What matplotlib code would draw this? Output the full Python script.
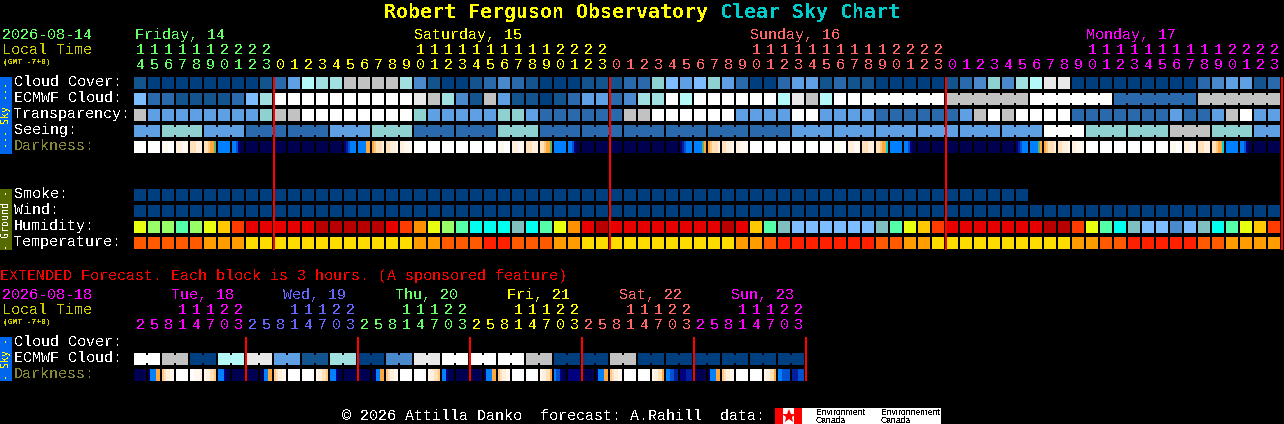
"""Clear Sky Chart for the Robert Ferguson Observatory."""
import matplotlib
matplotlib.use("Agg")
import matplotlib.pyplot as plt
from matplotlib.patches import Rectangle

plt.rcParams["font.family"] = ["Liberation Mono", "DejaVu Sans Mono"]
plt.rcParams["text.antialiased"] = False

GREEN, YELLOW, SALMON, MAGENTA, VIOLET = "#66FF66", "#FFFF00", "#FF6666", "#FF00FF", "#6666FF"
NAVY = "#003F7F"

# colour scales, indexed by the codes in the rows below
sky_colors = ["#003F7F", "#13548F", "#2A69AB", "#4A8ACC", "#5F9FE3", "#7CBCFF",
              "#8FD0D0", "#A0E0E0", "#B4F8F8", "#C2C2C2", "#E8E8E8", "#FFFFFF"]
humidity_colors = ["#4A8ACC", "#7CBCFF", "#80BFBF", "#00FFEE", "#55FFAA", "#99FF66",
                   "#E8FF10", "#FFC800", "#FF9000", "#FF3C00", "#E60000", "#B80000"]
temp_colors = ["#FF2000", "#FF5A00", "#FF9C00", "#FFDC00"]
dark_colors = {"0": "#000050", "1": "#000080", "2": "#0020A0", "3": "#0050D0",
               "4": "#0080FF", "5": "#FFA840", "6": "#FFC880", "7": "#FFE0B8",
               "8": "#FFEFDC", "9": "#FFF8F0", "W": "#FFFFFF", "g": "#60B070",
               "c": "#00D0E0"}

cloud_cover = [1, 0, 0, 0, 0, 0, 0, 0, 0, 1,
               2, 4, 8, 7, 7, 9, 9, 9, 9, 7, 3,
               1, 0, 0, 1, 2, 3, 2, 1, 0, 0, 0, 1, 1, 1, 2, 2, 6, 5, 4, 5, 6, 4, 2, 0, 0, 2, 4, 4, 1, 2, 1,
               1, 0, 0, 0, 0, 0, 1, 2, 3, 6, 3, 7, 8, 10, 10, 0, 0, 0, 0, 0, 0, 0, 0, 0, 2, 3, 4, 4, 1, 2]
ecmwf_cloud = [5, 2, 2, 1, 1, 1, 1, 2, 5, 7,
               11, 11, 11, 11, 11, 11, 11, 11, 11, 11, 10,
               9, 7, 3, 1, 9, 4, 1, 1, 0, 1, 2, 4, 4, 2, 3, 7, 7, 11, 8, 11, 11, 11, 11, 11, 11, 8, 10, 9, 8, 11, 11,
               11, 11, 11, 11, 11, 11, 9, 9, 9, 9, 9, 9, 11, 11, 11, 11, 11, 11, 2, 2, 2, 2, 2, 2, 9, 9, 9, 9, 9, 9]
transparency = [9, 4, 4, 4, 4, 4, 4, 4, 4, 6,
                9, 9, 11, 11, 11, 11, 11, 11, 11, 11, 6,
                4, 4, 4, 4, 4, 6, 6, 4, 2, 2, 2, 2, 2, 2, 9, 9, 11, 11, 11, 11, 11, 11, 4, 4, 4, 4, 11, 11, 4, 4, 4,
                4, 2, 2, 2, 2, 2, 2, 4, 9, 11, 9, 11, 11, 11, 11, 2, 2, 2, 2, 2, 2, 2, 4, 2, 2, 4, 9, 11, 4, 4]
seeing = [4, 4, 6, 6, 6, 4, 4, 4, 2, 2, 2, 2, 2, 2, 4, 4, 4, 6, 6, 6,
          2, 2, 2, 2, 2, 2, 6, 6, 6, 2, 2, 2, 2, 2, 2, 2, 2, 2, 2, 2, 2, 2, 2, 2, 2, 2, 2, 4, 4, 4,
          4, 4, 4, 4, 4, 4, 4, 4, 4, 4, 4, 4, 4, 4, 4, 11, 11, 11, 6, 6, 6, 6, 6, 6, 9, 9, 9, 6, 6, 6, 4, 4]
darkness = ["WWWWWW", "WWWWWW", "999WWW", "888999", "777888", "77655g", "444444", "443100",
            "000000", "000000", "000000", "000000", "000000", "000000", "000000", "123444",
            "444455", "567778", "778889", "889999", "WWWWWW",
            "WWWWWW", "WWWWWW", "WWWWWW", "WWWWWW", "WWWWWW", "999WWW", "888999", "777888", "77655g",
            "444444", "443100", "000000", "000000", "000000", "000000", "000000", "000000", "000000",
            "123444", "4444g5", "567778", "778889", "889999", "WWWWWW", "WWWWWW", "WWWWWW", "WWWWWW",
            "WWWWWW", "WWWWWW", "999WWW", "888999",
            "777888", "77655c", "444444", "443100", "000000", "000000", "000000", "000000", "000000",
            "000000", "000000", "123444", "4444g5", "567778", "778889", "889999", "WWWWWW", "WWWWWW",
            "WWWWWW", "WWWWWW", "WWWWWW", "WWWWWW", "999WWW", "888999", "777888", "77655c", "444444",
            "443100", "000000", "000000"]
smoke = [0] * 64
wind = [0] * 82
humidity = [6, 5, 5, 4, 5, 6, 7, 9, 10, 10, 10, 10, 10, 11, 11, 11, 11, 11, 10, 9, 8,
            6, 5, 4, 3, 3, 3, 2, 3, 4, 6, 8, 10, 11, 10, 10, 10, 10, 10, 10, 10, 10, 11, 10, 7, 4, 2, 1, 1, 1, 1, 1,
            1, 2, 4, 6, 7, 9, 10, 10, 10, 10, 10, 10, 10, 11, 11, 9, 6, 4, 3, 2, 1, 1, 0, 1, 2, 3, 4, 6, 7, 9]
temperature = [1, 1, 1, 1, 1, 2, 2, 2, 3, 3, 3, 3, 3, 3, 3, 3, 3, 3, 3, 3, 2,
               2, 1, 1, 1, 0, 0, 1, 1, 1, 2, 2, 3, 3, 3, 3, 3, 3, 3, 3, 3, 3, 3, 2, 2, 1, 0, 0, 0, 0, 0, 0,
               0, 1, 1, 2, 2, 3, 3, 3, 3, 3, 3, 3, 3, 3, 3, 2, 2, 1, 1, 0, 0, 0, 0, 0, 1, 1, 2, 2, 2, 2]

ext_ecmwf = [11, 11, 9, 9, 0, 0, 8, 8, 10, 10, 4, 4, 1, 1, 7, 7, 0, 0, 3, 3, 10, 10, 11, 11,
             11, 11, 11, 11, 9, 9, 0, 0, 0, 0, 9, 9, 0, 0, 0, 0, 0, 0, 0, 0, 0, 0, 0, 0]
ext_darkness = ["000000", "044455", "678899", "WWWWWW", "WW9998", "988776", "444100", "000000",
                "000000", "004455", "678899", "WWWWWW", "WWWWWW", "988776", "444100", "000000",
                "000000", "004455", "678899", "WWWWWW", "WWWWWW", "988776", "441000", "000000",
                "000000", "044455", "678899", "WWWWWW", "WWWWWW", "988775", "433100", "111111",
                "000000", "044455", "678899", "WWWWWW", "WWWWWW", "988775", "443322", "111222",
                "000000", "044455", "678899", "WWWWWW", "WWWWWW", "988775", "443333", "222333"]

# runs of blocks joined by a narrow neck
seeing_runs = [2] + [3] * 26 + [2]
ecmwf_runs = [1] * 52 + [6] * 5
ext_runs = [2] * 24

main_hours = [14, 15, 16, 17, 18, 19, 20, 21, 22, 23] + list(range(24)) * 3
main_hour_colors = [GREEN] * 10 + [YELLOW] * 24 + [SALMON] * 24 + [MAGENTA] * 24
main_days = ["Friday, 14", "Saturday, 15", "Sunday, 16", "Monday, 17"]
main_day_colors = [GREEN, YELLOW, SALMON, MAGENTA]
main_day_starts = [0, 20, 44, 68]
main_day_breaks = [10, 34, 58, 82]

ext_hours = [2, 5, 8, 11, 14, 17, 20, 23] * 6
ext_day_colors = [MAGENTA, VIOLET, GREEN, YELLOW, SALMON, MAGENTA]
ext_days = ["Tue, 18", "Wed, 19", "Thu, 20", "Fri, 21", "Sat, 22", "Sun, 23"]
ext_day_breaks = [8, 16, 24, 32, 40, 48]

X0, PITCH, SIZE = 134, 14, 12


def rect(ax, x, y, w, h, color, zorder=2):
    ax.add_patch(Rectangle((x, y), w, h, facecolor=color, edgecolor="none", linewidth=0,
                           antialiased=False, snap=False, zorder=zorder))


def label(ax, x, y, s, color="white", px=15, **kw):
    ax.text(x, y, s, color=color, fontsize=px * 0.72, va="baseline", ha="left", **kw)


def blocks(ax, y, codes, palette, runs=None):
    for i, c in enumerate(codes):
        rect(ax, X0 + i * PITCH, y, SIZE, SIZE, palette[c])
    if runs is None:
        return
    start = 0
    for n in runs:
        for i in range(start, start + n - 1):
            rect(ax, X0 + i * PITCH + SIZE, y + 2, PITCH - SIZE, SIZE - 4, palette[codes[i]])
        start += n


def dark_blocks(ax, y, cells):
    for i, strips in enumerate(cells):
        w = SIZE / len(strips)
        for j, code in enumerate(strips):
            rect(ax, X0 + i * PITCH + j * w, y, w, SIZE, dark_colors[code])


def side_bar(ax, y0, y1, color, text, text_color):
    rect(ax, 0, y0, 12, y1 - y0, color)
    ax.text(6, (y0 + y1) / 2, text, color=text_color, fontsize=7.2, rotation=90,
            ha="center", va="center", family="DejaVu Sans Mono")


def hour_rows(ax, y_tens, y_ones, hours, colors):
    # left aligned on whole pixels, so every digit rasterises the same way
    for i, (h, c) in enumerate(zip(hours, colors)):
        x = X0 + i * PITCH + 2
        if h >= 10:
            label(ax, x, y_tens, str(h // 10), c)
        label(ax, x, y_ones, str(h % 10), c)


def red_lines(ax, y0, y1, breaks):
    for b in breaks:
        rect(ax, X0 + b * PITCH - 1, y0, 2, y1 - y0, "#FF0000", zorder=3)


fig = plt.figure(figsize=(12.84, 4.24), dpi=100, facecolor="black")
ax = fig.add_axes([0, 0, 1, 1])
ax.set_xlim(0, 1284)
ax.set_ylim(424, 0)
ax.axis("off")

# title
ax.text(384, 18, "Robert Ferguson Observatory", color="#FFFF00", fontsize=14.4,
        family="DejaVu Sans Mono", weight="bold", va="baseline")
ax.text(720, 18, "Clear Sky Chart", color="#00CCCC", fontsize=14.4,
        family="DejaVu Sans Mono", weight="bold", va="baseline")

# main forecast header
label(ax, 2, 39, "2026-08-14", GREEN)
label(ax, 2, 54, "Local Time", "#CCCC00")
label(ax, 3, 64, "(GMT -7+0)", "#CCCC00", px=8, weight="bold")
for start, day, col in zip(main_day_starts, main_days, main_day_colors):
    label(ax, X0 + start * PITCH + (1 if start == 0 else 0), 39, day, col)
hour_rows(ax, 54, 69, main_hours, main_hour_colors)

# sky rows
sky_rows = [("Cloud Cover:", 77), ("ECMWF Cloud:", 93), ("Transparency:", 109),
            ("Seeing:", 125)]
for name, y in sky_rows:
    label(ax, 14, y + 9, name)
label(ax, 14, 150, "Darkness:", "#888833")
blocks(ax, 77, cloud_cover, sky_colors)
blocks(ax, 93, ecmwf_cloud, sky_colors, ecmwf_runs)
blocks(ax, 109, transparency, sky_colors)
blocks(ax, 125, seeing, sky_colors, seeing_runs)
dark_blocks(ax, 141, darkness)
side_bar(ax, 77, 154, "#0066EE", "--- Sky ---", "#FFFF00")

# ground rows
for name, y in [("Smoke:", 189), ("Wind:", 205), ("Humidity:", 221), ("Temperature:", 237)]:
    label(ax, 14, y + 9, name)
blocks(ax, 189, smoke, [NAVY])
blocks(ax, 205, wind, [NAVY])
blocks(ax, 221, humidity, humidity_colors)
blocks(ax, 237, temperature, temp_colors)
side_bar(ax, 189, 250, "#556B00", "- Ground -", "white")
red_lines(ax, 77, 250, main_day_breaks)

# extended forecast
label(ax, 0, 280, "EXTENDED Forecast. Each block is 3 hours. (A sponsored feature)", "#FF0000")
label(ax, 2, 299, "2026-08-18", MAGENTA)
label(ax, 2, 314, "Local Time", "#CCCC00")
label(ax, 3, 324, "(GMT -7+0)", "#CCCC00", px=8, weight="bold")
for k, (day, col) in enumerate(zip(ext_days, ext_day_colors)):
    label(ax, 171 + k * 8 * PITCH, 299, day, col)
hour_rows(ax, 314, 329, ext_hours, [c for c in ext_day_colors for _ in range(8)])
label(ax, 14, 346, "Cloud Cover:")
label(ax, 14, 362, "ECMWF Cloud:")
label(ax, 14, 378, "Darkness:", "#888833")
blocks(ax, 353, ext_ecmwf, sky_colors, ext_runs)
dark_blocks(ax, 369, ext_darkness)
side_bar(ax, 337, 381, "#0066EE", "- Sky -", "#FFFF00")
red_lines(ax, 337, 381, ext_day_breaks)

# footer
label(ax, 342, 420, "© 2026 Attilla Danko  forecast: A.Rahill  data:", "white")
rect(ax, 775, 408, 166, 16, "white")
rect(ax, 775, 408, 8, 16, "#FF0000")
rect(ax, 794, 408, 8, 16, "#FF0000")
ax.plot([788.5], [416], marker="*", color="#FF0000", markersize=10, markeredgewidth=0)
for x, word in [(816, "Environment"), (881, "Environnement")]:
    ax.text(x, 415, word, color="black", fontsize=6.2, family="Liberation Sans", va="baseline")
    ax.text(x, 423, "Canada", color="black", fontsize=6.2, family="Liberation Sans", va="baseline")

fig.savefig("out.png", dpi=100, facecolor="black")
